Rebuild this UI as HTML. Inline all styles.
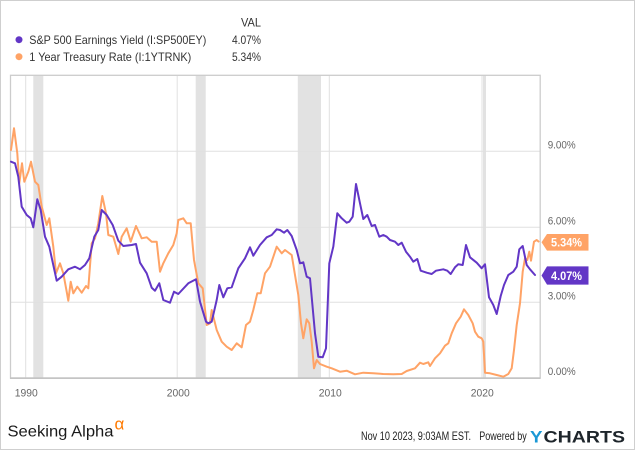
<!DOCTYPE html>
<html>
<head>
<meta charset="utf-8">
<style>
  html, body { margin: 0; padding: 0; background: #fff; }
  body { width: 635px; height: 450px; overflow: hidden; }
  svg { display: block; }
  text { font-family: "Liberation Sans", "DejaVu Sans", sans-serif; }
</style>
</head>
<body>
<svg width="635" height="450" viewBox="0 0 635 450" xmlns="http://www.w3.org/2000/svg">
  <!-- outer border -->
  <rect x="0.5" y="0.5" width="634" height="449" fill="#fff" stroke="#cfcfcf" stroke-width="1"/>

  <!-- legend -->
  <text x="261" y="26.5" font-size="12" fill="#333" text-anchor="end" textLength="20" lengthAdjust="spacingAndGlyphs">VAL</text>
  <circle cx="19" cy="39.7" r="3.5" fill="#6236c6"/>
  <text x="29.3" y="44" font-size="12" fill="#333" textLength="177" lengthAdjust="spacingAndGlyphs">S&amp;P 500 Earnings Yield (I:SP500EY)</text>
  <text x="261" y="44" font-size="12" fill="#333" text-anchor="end" textLength="29" lengthAdjust="spacingAndGlyphs">4.07%</text>
  <circle cx="19" cy="56.7" r="3.5" fill="#ffa366"/>
  <text x="29.3" y="61" font-size="12" fill="#333" textLength="162" lengthAdjust="spacingAndGlyphs">1 Year Treasury Rate (I:1YTRNK)</text>
  <text x="261" y="61" font-size="12" fill="#333" text-anchor="end" textLength="29" lengthAdjust="spacingAndGlyphs">5.34%</text>

  <!-- recession shading -->
  <rect x="33.3" y="75" width="10" height="303" fill="#e2e2e2"/>
  <rect x="195.7" y="75" width="10" height="303" fill="#e2e2e2"/>
  <rect x="297.8" y="75" width="23.2" height="303" fill="#e2e2e2"/>
  <rect x="483" y="75" width="3" height="303" fill="#e2e2e2"/>

  <!-- gridlines -->
  <g stroke="#e0e0e0" stroke-width="1">
    <line x1="10.5" y1="151.3" x2="540" y2="151.3"/>
    <line x1="10.5" y1="227.3" x2="540" y2="227.3"/>
    <line x1="10.5" y1="302.3" x2="540" y2="302.3"/>
    <line x1="25.7" y1="75" x2="25.7" y2="378"/>
    <line x1="177.2" y1="75" x2="177.2" y2="378"/>
    <line x1="329.3" y1="75" x2="329.3" y2="378"/>
    <line x1="482" y1="75" x2="482" y2="378"/>
  </g>

  <!-- frame -->
  <rect x="10.5" y="75.3" width="529.7" height="302.7" fill="none" stroke="#cccccc" stroke-width="1.3"/>
  <line x1="10" y1="378.2" x2="540.5" y2="378.2" stroke="#c4c4c4" stroke-width="1.6"/>

  <!-- orange series: 1 Year Treasury -->
  <polyline fill="none" stroke="#ffa366" stroke-width="2" stroke-linejoin="round" stroke-linecap="round"
    points="11,150 14,128.3 17.3,153.3 19.3,183.3 22,163.3 24.3,181.7 28.3,171.7 31,161.7 35,181.7 38.3,185 41.7,206.7 46.7,225 49.3,218.3 53.3,246.7 56,273.3 60,263.3 63.3,273.3 66.7,291.7 68.3,300.7 70.7,281.7 73.3,293.3 77.3,286.7 81.7,292.7 86,286 88.3,288.3 91.7,243.3 95,238.3 98.3,223.3 102.3,196 106,213.3 108.3,235 113.3,236.7 118.3,254 121.7,236.7 126.7,228.3 130.7,241.7 136,226 141.7,238.3 146.7,237.3 151.7,241.7 156.7,241.7 160,271.7 163.3,263.3 168.3,253.3 173.3,245 176.7,233.3 178.3,220 183.3,218.3 186.7,223.3 190.7,223.3 194,260 198.3,283.3 202.7,288.3 206.7,325 210,323.3 211.7,310 216.7,330 221.7,341.7 226.7,346.7 231.7,350 236.7,343.3 241.7,347.3 246,325 250,321.7 253.3,310 257.3,293.3 260.7,293.3 265,273.3 270,266.7 276.7,246.7 281.7,253.3 285,250 291.7,255 295,275 298.3,295 301,323.3 303.3,338.3 306.7,319.3 309.3,323.3 311.7,341.7 314,368.3 316.7,360 320,364 326.7,366.7 331.7,368.3 340,371.7 346.7,370.7 355,374.3 363.3,372.7 373.3,373.3 383.3,374 393.3,374.3 401.7,374 406.7,371 415,368.3 420,362.7 423.3,364 428.3,362.3 430,366 435,358.3 440,353.3 445,345.7 448.3,343.3 451.7,333.3 456,323.3 460.7,316.7 464,309.3 468.3,315 472.7,323.3 475,331.7 478.3,336.7 481.7,338.3 483.3,341.7 485,372.7 490,373.3 496.7,375 503.3,376.7 508.3,374 511.7,368.3 514,350 516.7,325 520,303.3 522.7,271.7 525,258.3 527.3,260 529.3,251.7 531,260.7 534,241.7 536.7,240 538.5,241.5"/>

  <!-- purple series: S&P 500 Earnings Yield -->
  <polyline fill="none" stroke="#6236c6" stroke-width="2" stroke-linejoin="round" stroke-linecap="round"
    points="11,161.7 15,163.3 18.3,176.7 21.7,206.7 26.7,215 30.7,218.3 33.3,227.3 37.3,199.3 40.7,210 45,236.7 49.3,246.7 56.7,280.7 61.7,276.7 68.3,269.3 75,266.7 80,269.3 85,265 89.3,258.3 94.3,236.7 98.3,230 101.7,210 106.7,215 112.7,225 118.3,240.7 123.3,246 131.7,245 136,244 140,262.7 146.7,273.3 151.7,287.7 155,290.7 159.3,283.3 163.3,300 170,302.7 174,291.7 178.3,294 188.3,283.3 196,279.3 200,301.7 206,321.7 208.3,323.3 211.7,321.7 216.7,300 219.3,285 223.3,297.3 227.3,288.3 231.7,287.3 238.3,268.3 245,258.3 250,247.3 253.3,255.7 260,245 266.7,237.3 271.7,235 276.7,229.3 280,230 284,232.7 287.3,230 291.7,236 296.7,250 300,263.3 303.3,262.3 306.7,276.7 310,278.3 315,333.3 318.3,356.7 322.7,357.3 326,348.3 329.3,263.3 333.3,246.7 337.3,213.3 341.7,218.3 346.7,222.7 349.3,221.7 352.7,216.7 356,184 360,203.3 363.3,219 367.3,215 371.7,226 375,225 379.3,236.7 383.3,235 386.7,236.7 390,240 395,241.7 398.3,245 401.7,242.7 406,251.7 410,256.7 413.3,261.7 417.3,259 420.7,270.7 426.7,272.7 431.7,274 436,270.7 443.3,269.3 447.3,270.7 450.7,274 455,267.3 458.3,264.3 462.7,265 466,245 470,257.3 476.7,262.7 481.7,268.3 485,264.3 489,297.3 493.3,305 496.7,314 500.7,296 504,285 508.3,275 513.3,271.7 516.7,266.7 519.3,249.3 522.7,246 526.7,265 530,269.3 535,275"/>

  <!-- y axis labels -->
  <g font-size="11" fill="#666">
    <text x="547.7" y="148.5" textLength="28" lengthAdjust="spacingAndGlyphs">9.00%</text>
    <text x="547.7" y="224.5" textLength="28" lengthAdjust="spacingAndGlyphs">6.00%</text>
    <text x="547.7" y="299.5" textLength="28" lengthAdjust="spacingAndGlyphs">3.00%</text>
    <text x="547.7" y="375" textLength="28" lengthAdjust="spacingAndGlyphs">0.00%</text>
  </g>

  <!-- value tags -->
  <polygon points="541.5,242.2 547,234 588.5,234 588.5,250.6 547,250.6" fill="#ffa366"/>
  <text x="551" y="246.6" font-size="12" font-weight="bold" fill="#fff" textLength="31" lengthAdjust="spacingAndGlyphs">5.34%</text>
  <polygon points="541.5,275.5 547,266.4 588.5,266.4 588.5,284.6 547,284.6" fill="#6236c6"/>
  <text x="551" y="279.8" font-size="12" font-weight="bold" fill="#fff" textLength="31" lengthAdjust="spacingAndGlyphs">4.07%</text>

  <!-- x axis labels -->
  <g font-size="11" fill="#666" text-anchor="middle">
    <text x="26.3" y="396.7" textLength="23" lengthAdjust="spacingAndGlyphs">1990</text>
    <text x="178.3" y="396.7" textLength="23" lengthAdjust="spacingAndGlyphs">2000</text>
    <text x="330.3" y="396.7" textLength="23" lengthAdjust="spacingAndGlyphs">2010</text>
    <text x="482.3" y="396.7" textLength="23" lengthAdjust="spacingAndGlyphs">2020</text>
  </g>

  <!-- footer -->
  <text x="7.5" y="436.7" font-size="16" fill="#1a1a1a" textLength="106" lengthAdjust="spacingAndGlyphs">Seeking Alpha</text>
  <text x="114.5" y="429.5" font-size="17" fill="#ff7a00">α</text>

  <text x="361" y="440" font-size="12" fill="#222" textLength="110" lengthAdjust="spacingAndGlyphs">Nov 10 2023, 9:03AM EST.</text>
  <text x="479.3" y="440" font-size="12" fill="#222" textLength="47.5" lengthAdjust="spacingAndGlyphs">Powered by</text>
  <text x="530" y="442.3" font-size="17" font-weight="bold" fill="#1a98d5" textLength="12.5" lengthAdjust="spacingAndGlyphs">Y</text>
  <text x="543.5" y="442.3" font-size="17" font-weight="bold" fill="#1e252b" textLength="81.5" lengthAdjust="spacingAndGlyphs">CHARTS</text>
</svg>
</body>
</html>
